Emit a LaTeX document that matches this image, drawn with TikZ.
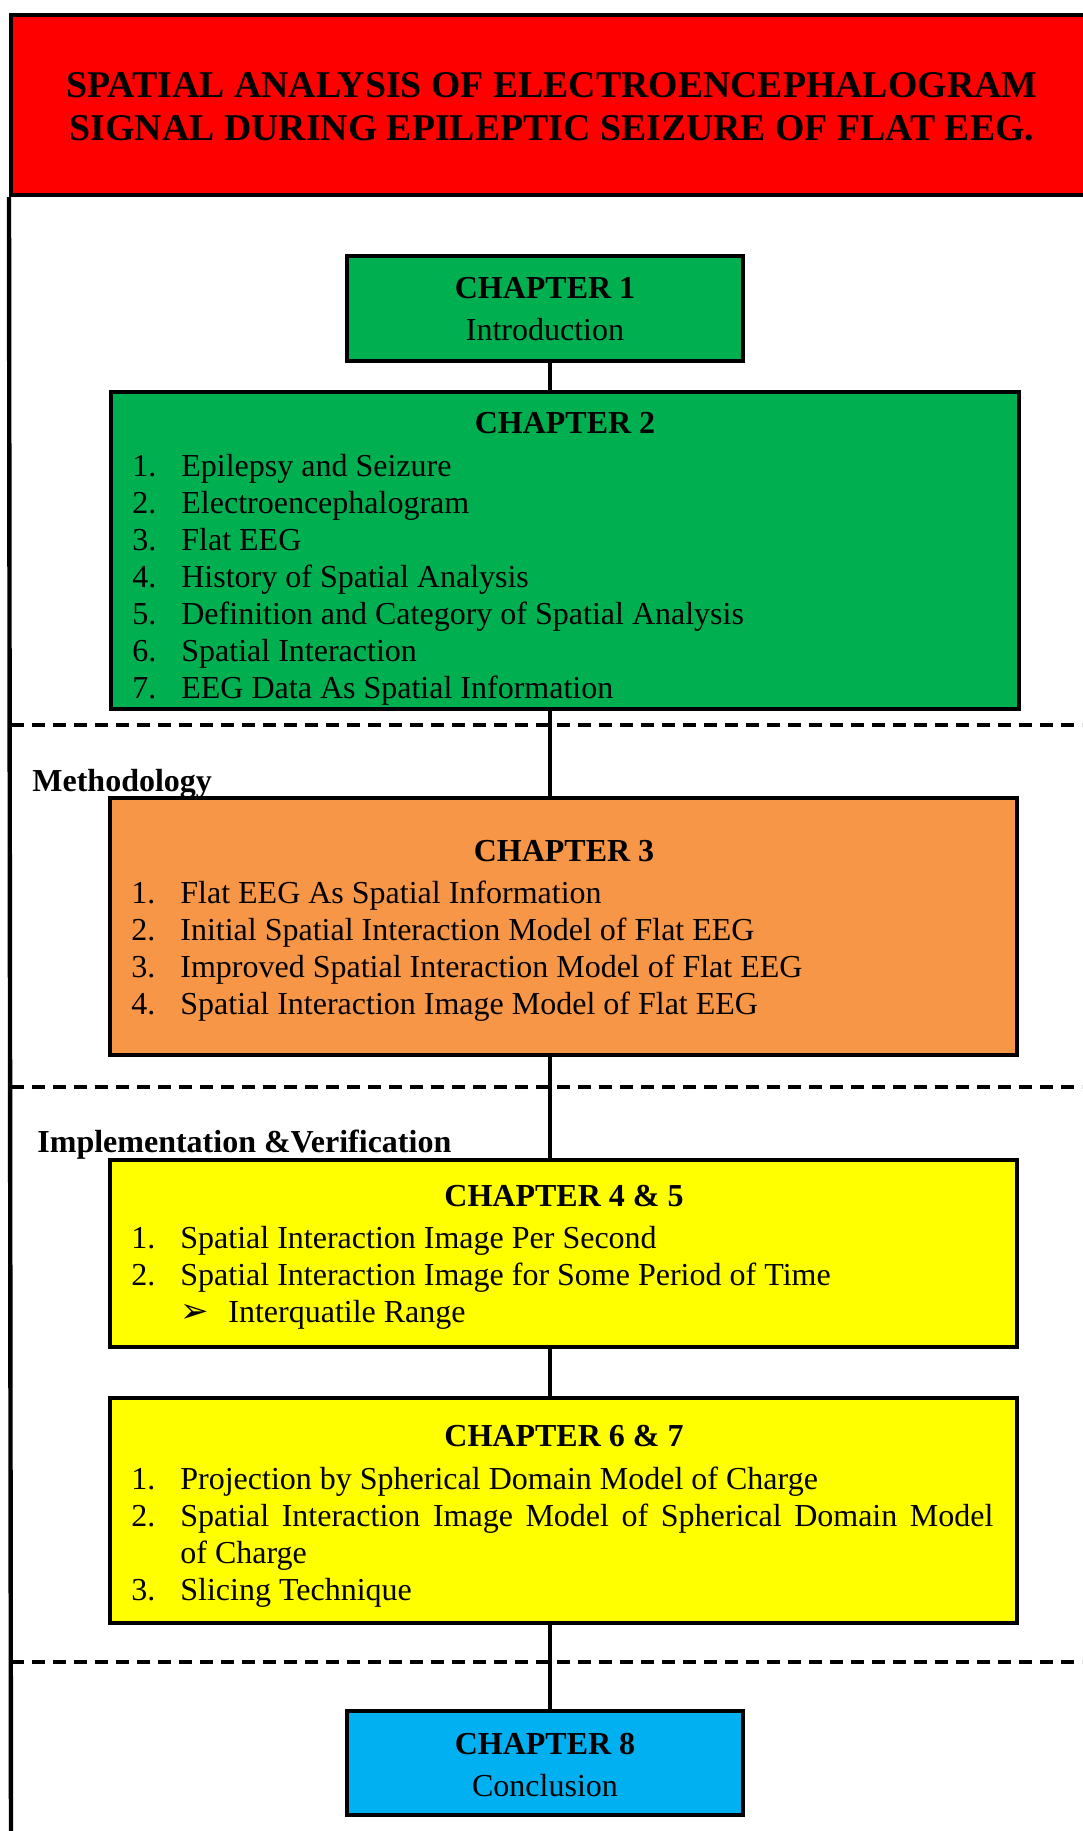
\documentclass[tikz,border=0pt]{standalone}
\usepackage{fontspec}
\setmainfont{Liberation Serif}
\newfontfamily\dingfont{DejaVu Sans}
\usepackage{xcolor}
\usepackage{array}
\usetikzlibrary{fit}

\definecolor{titlered}{HTML}{FF0000}
\definecolor{chgreen}{HTML}{00B050}
\definecolor{chorange}{HTML}{F79646}
\definecolor{chyellow}{HTML}{FFFF00}
\definecolor{chblue}{HTML}{00B0F0}

\newcommand{\itemrows}[1]{\begin{tabular}[t]{@{}p{24.5pt}@{}l@{}}#1\end{tabular}}

\begin{document}
\begin{tikzpicture}[
  x=0.5pt, y=0.5pt,
  font=\fontsize{16}{18.5}\selectfont,
  chbox/.style={draw,line width=2pt,inner sep=0pt},
  head/.style={font=\fontsize{16}{18.5}\selectfont\bfseries,anchor=base,inner sep=0pt},
  items/.style={anchor=base west,inner sep=0pt},
  phase/.style={font=\fontsize{16}{18.5}\selectfont\bfseries,anchor=base west,inner sep=0pt},
  frame/.style={line width=2.2pt},
  link/.style={line width=1.8pt},
  sep/.style={line width=2pt,dash pattern=on 6.5pt off 4pt}
]
\useasboundingbox (0,0) rectangle (1082,-1831);
\coordinate (spine) at (550,0);
\coordinate (foot) at (11,-1840);

\node[chbox,fill=titlered,fit={(11,-15) (1100,-195)}] (T) {};
\node[font=\fontsize{18.9}{21.5}\selectfont\bfseries,align=center,anchor=base,inner sep=0pt] (Tt) at (552,-140)
  {SPATIAL ANALYSIS OF ELECTROENCEPHALOGRAM\\SIGNAL DURING EPILEPTIC SEIZURE OF FLAT EEG.};
\draw[frame] (T.south west) -- (foot);

\draw[sep] (11,-725) -- (1082,-725);
\draw[sep] (11,-1087) -- (1082,-1087);
\draw[sep] (11,-1662) -- (1082,-1662);

\node[chbox,fill=chgreen,fit={(347,-256) (743,-361)}] (C1) {};
\node[font=\fontsize{16}{21}\selectfont,align=center,anchor=base,inner sep=0pt] (C1t) at (545,-340)
  {{\bfseries CHAPTER 1}\\Introduction};

\node[chbox,fill=chgreen,fit={(111,-392) (1019,-709)}] (C2) {};
\node[head] (C2h) at (565,-433) {CHAPTER 2};
\node[items] (C2l) at (132,-476) {\itemrows{
  1. & Epilepsy and Seizure\\
  2. & Electroencephalogram\\
  3. & Flat EEG\\
  4. & History of Spatial Analysis\\
  5. & Definition and Category of Spatial Analysis\\
  6. & Spatial Interaction\\
  7. & EEG Data As Spatial Information}};

\node[phase] (M) at (32,-791) {Methodology};

\node[chbox,fill=chorange,fit={(110,-798) (1017,-1055)}] (C3) {};
\node[head] (C3h) at (564,-861) {CHAPTER 3};
\node[items] (C3l) at (131,-903) {\itemrows{
  1. & Flat EEG As Spatial Information\\
  2. & Initial Spatial Interaction Model of Flat EEG\\
  3. & Improved Spatial Interaction Model of Flat EEG\\
  4. & Spatial Interaction Image Model of Flat EEG}};

\node[phase] (I) at (37,-1152) {Implementation \&Verification};

\node[chbox,fill=chyellow,fit={(110,-1160) (1017,-1347)}] (C45) {};
\node[head] (C45h) at (564,-1206) {CHAPTER 4 \& 5};
\node[items] (C45l) at (131,-1248) {\itemrows{
  1. & Spatial Interaction Image Per Second\\
  2. & Spatial Interaction Image for Some Period of Time\\
     & \makebox[24pt][l]{\dingfont\fontsize{17}{18.5}\selectfont ➢}Interquatile Range}};

\node[chbox,fill=chyellow,fit={(110,-1398) (1017,-1623)}] (C67) {};
\node[head] (C67h) at (564,-1446) {CHAPTER 6 \& 7};
\node[items] (C67l) at (131,-1489) {\itemrows{
  1. & Projection by Spherical Domain Model of Charge\\
  2. & \makebox[406.5pt][s]{Spatial Interaction Image Model of Spherical Domain Model}\\
     & of Charge\\
  3. & Slicing Technique}};

\node[chbox,fill=chblue,fit={(347,-1711) (743,-1815)}] (C8) {};
\node[font=\fontsize{16}{21}\selectfont,align=center,anchor=base,inner sep=0pt] (C8t) at (545,-1796)
  {{\bfseries CHAPTER 8}\\Conclusion};

\draw[link] (C1.south -| spine) -- (C2.north -| spine);
\draw[link] (C2.south -| spine) -- (C3.north -| spine);
\draw[link] (C3.south -| spine) -- (C45.north -| spine);
\draw[link] (C45.south -| spine) -- (C67.north -| spine);
\draw[link] (C67.south -| spine) -- (C8.north -| spine);
\end{tikzpicture}
\end{document}
